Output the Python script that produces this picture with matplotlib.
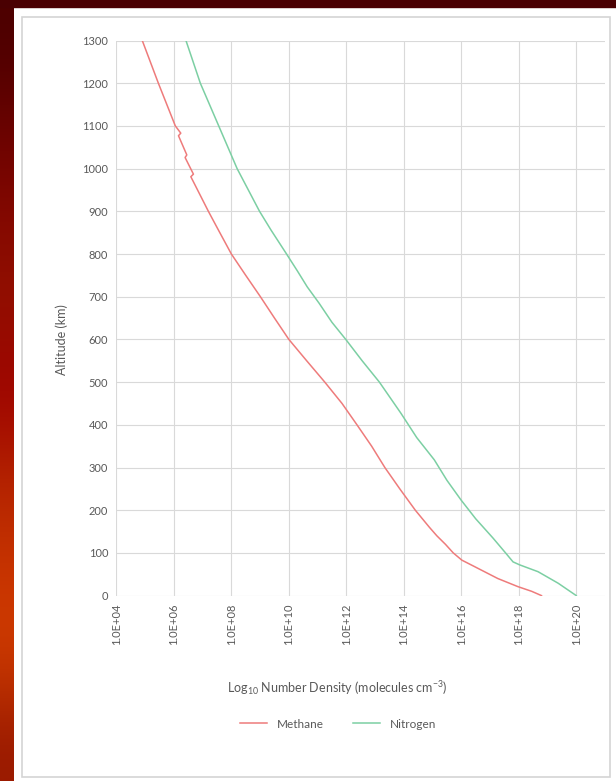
import numpy as np
import matplotlib
matplotlib.use('Agg')
import matplotlib.pyplot as plt
from matplotlib.patches import Rectangle

plt.rcParams['font.family'] = ['Lato', 'DejaVu Sans']
plt.rcParams['mathtext.fontset'] = 'custom'
plt.rcParams['mathtext.rm'] = 'Lato'

# altitude (km) vs log10 number density
methane_alt = [1300, 1200, 1100, 1083, 1077, 1032, 1026, 987, 981, 900, 856, 800, 750, 700,
               650, 600, 550, 500, 450, 400, 350, 300, 250, 200, 160, 140, 120, 100, 83,
               70, 60, 40, 21, 10, 0]
methane_log = [4.9, 5.46, 6.05, 6.24, 6.16, 6.45, 6.39, 6.68, 6.59, 7.2, 7.55, 8.0, 8.5, 9.01,
               9.5, 10.0, 10.62, 11.25, 11.85, 12.37, 12.88, 13.34, 13.86, 14.4, 14.89, 15.15,
               15.45, 15.72, 16.02, 16.4, 16.69, 17.27, 17.97, 18.45, 18.79]

nitrogen_alt = [1300, 1200, 1100, 1000, 900, 856, 800, 760, 723, 685, 640, 600, 550, 500, 427,
                370, 318, 270, 224, 180, 135, 100, 79, 72, 56, 29, 0]
nitrogen_log = [6.42, 6.92, 7.56, 8.2, 8.98, 9.38, 9.92, 10.3, 10.64, 11.05, 11.5, 11.98, 12.55,
                13.15, 13.9, 14.45, 15.06, 15.5, 15.99, 16.5, 17.1, 17.54, 17.8, 18.03, 18.67,
                19.37, 20.0]

x_exps = list(range(4, 21, 2))
x_labels = ['1.0E+%02d' % e for e in x_exps]
y_ticks = list(range(0, 1301, 100))

W, H = 616, 781
fig = plt.figure(figsize=(W / 100, H / 100), dpi=100)
fig.patch.set_facecolor('white')

# dark backdrop round the chart panel
fig.patches.append(Rectangle((0, 1 - 7 / H), 1, 7 / H, transform=fig.transFigure,
                             color='#4a0002', zorder=0))
bg = fig.add_axes([0, 0, 14 / W, 1])
grad = np.array([[0.3, 0.0, 0.0], [0.42, 0.01, 0.0], [0.52, 0.03, 0.0], [0.58, 0.07, 0.0],
                 [0.62, 0.0, 0.0], [0.7, 0.14, 0.0], [0.78, 0.2, 0.0], [0.82, 0.24, 0.0],
                 [0.6, 0.1, 0.0]])
bg.imshow(grad[:, None, :], aspect='auto', interpolation='bicubic', extent=[0, 1, 0, 1])
bg.axis('off')
fig.patches.append(Rectangle((22 / W, 1 - 777 / H), (610 - 22) / W, (777 - 17) / H,
                             transform=fig.transFigure, fill=False, edgecolor='#d4d4d4',
                             lw=1.2, zorder=1))

left, right, top, bottom = 116.4, 605, 40.5, 595.6
ax = fig.add_axes([left / W, 1 - bottom / H, (right - left) / W, (bottom - top) / H])
ax.set_xscale('log')
ax.plot(10 ** np.array(methane_log), methane_alt, color='#ee7b7b', lw=1.1, label='Methane')
ax.plot(10 ** np.array(nitrogen_log), nitrogen_alt, color='#7ccfa3', lw=1.1, label='Nitrogen')
ax.set_xlim(1e4, 1e21)
ax.set_ylim(0, 1300)
ax.set_xticks([10.0 ** e for e in x_exps])
ax.set_xticklabels(x_labels, rotation=90)
ax.xaxis.set_minor_locator(matplotlib.ticker.NullLocator())
ax.set_yticks(y_ticks)
ax.tick_params(length=0, labelsize=8, colors='#595959', pad=6)
ax.grid(True, color='#d9d9d9', lw=0.8)
ax.set_axisbelow(True)
for s in ax.spines.values():
    s.set_visible(False)

fig.text(337 / W, 1 - 688 / H, r'Log$_{\mathrm{10}}$ Number Density (molecules cm$^{\mathrm{-3}}$)',
         ha='center', va='center', fontsize=9, color='#595959')
fig.text(61.7 / W, 1 - 340 / H, 'Altitude (km)', rotation=90, ha='center', va='center',
         fontsize=9, color='#595959')

leg = ax.legend(loc='center', bbox_to_anchor=(338 / W, 1 - 724 / H), bbox_transform=fig.transFigure,
                ncol=2, frameon=False, fontsize=8.5, handlelength=2.3, columnspacing=2.5)
for t in leg.get_texts():
    t.set_color('#595959')

fig.savefig('out.png', dpi=100)
